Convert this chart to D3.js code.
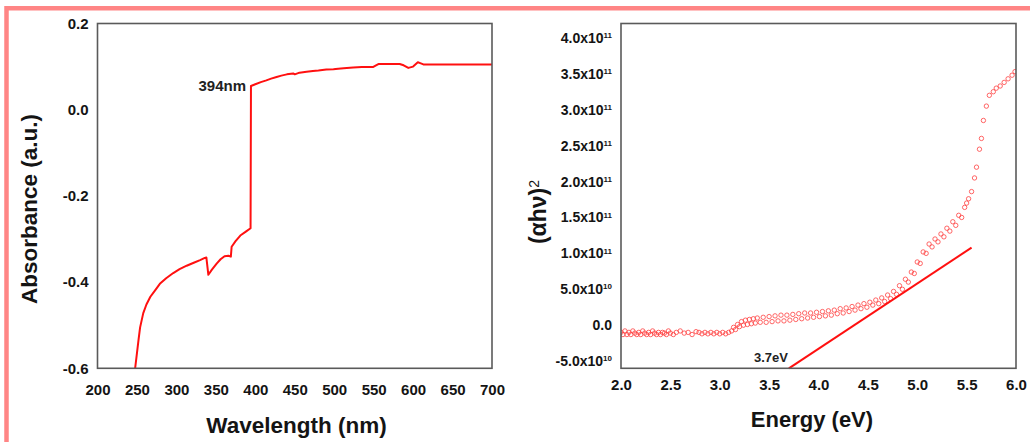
<!DOCTYPE html>
<html>
<head>
<meta charset="utf-8">
<script src="https://cdn.jsdelivr.net/npm/d3@7"></script>
<style>
  html, body { margin: 0; padding: 0; background: #fff; }
  text { font-family: "Liberation Sans", Arial, sans-serif; }
</style>
</head>
<body>
<script>
// ---------- data: left panel (absorbance spectrum) ----------
const wavelength = [247.7, 250, 252, 254, 258, 262, 267, 273, 279, 287, 296, 304, 313, 322, 330, 336, 338,
  340.5, 345, 351, 356, 361, 366, 369, 370, 375, 381, 388, 394,
  394.5, 400, 407, 414, 420, 427, 433, 440, 448, 450, 456, 465, 473, 480, 490, 499, 505, 512,
  524, 535, 549, 553, 556, 570, 583, 588, 594, 600, 606, 609, 613, 650, 700];
const absorbance = [-0.6, -0.565, -0.534, -0.505, -0.472, -0.452, -0.434, -0.419, -0.404, -0.391, -0.379, -0.370, -0.362, -0.355, -0.349, -0.344, -0.343,
  -0.383, -0.371, -0.357, -0.347, -0.340, -0.339, -0.341, -0.318, -0.305, -0.292, -0.283, -0.275,
  0.055, 0.059, 0.064, 0.068, 0.072, 0.076, 0.079, 0.082, 0.084, 0.082, 0.086, 0.088, 0.090, 0.091, 0.093, 0.094, 0.095, 0.096,
  0.098, 0.099, 0.099, 0.103, 0.106, 0.106, 0.106, 0.103, 0.097, 0.100, 0.110, 0.108, 0.105, 0.105, 0.105];
const leftXTicks = [200, 250, 300, 350, 400, 450, 500, 550, 600, 650, 700];
const leftYTicks = [-0.6, -0.4, -0.2, 0.0, 0.2];

// ---------- data: right panel (Tauc plot), values in units of 1e10 ----------
const energy = [2.00, 2.02, 2.04, 2.06, 2.08, 2.10, 2.12, 2.14, 2.16, 2.18, 2.20, 2.22, 2.24, 2.26, 2.28, 2.30,
  2.32, 2.34, 2.36, 2.38, 2.40, 2.42, 2.44, 2.46, 2.48, 2.50, 2.53, 2.56, 2.60, 2.64, 2.68, 2.72, 2.76,
  2.79, 2.82, 2.85, 2.88, 2.91, 2.94, 2.97, 3.00, 3.03, 3.06, 3.09,
  3.12, 3.14, 3.16, 3.18, 3.20, 3.22, 3.24, 3.26, 3.28, 3.30, 3.32, 3.34, 3.36, 3.38, 3.41, 3.44,
  3.47, 3.50, 3.53, 3.56, 3.59, 3.62, 3.65, 3.68, 3.71, 3.74, 3.77, 3.80, 3.83, 3.86, 3.89, 3.92,
  3.95, 3.98, 4.01, 4.04, 4.07, 4.10, 4.13, 4.16, 4.19, 4.22, 4.25, 4.28, 4.31, 4.34, 4.37, 4.40,
  4.43, 4.46, 4.49, 4.52, 4.55, 4.58, 4.61, 4.64, 4.67, 4.70, 4.73, 4.76, 4.79, 4.82, 4.85, 4.88,
  4.91, 4.94, 4.97, 5.00, 5.03, 5.06, 5.09, 5.12, 5.15, 5.18, 5.21, 5.24, 5.27, 5.30, 5.33, 5.36,
  5.39, 5.42, 5.45, 5.48, 5.50, 5.52, 5.55, 5.58, 5.60, 5.63, 5.65, 5.67, 5.70, 5.73, 5.77, 5.80,
  5.84, 5.88, 5.92, 5.96, 5.99];
const ahv2 = [-1.0, -1.3, -0.8, -1.3, -1.0, -1.3, -0.8, -1.1, -1.3, -1.0, -1.3, -0.8, -1.1, -1.3, -1.0, -1.3,
  -0.8, -1.1, -1.3, -1.0, -1.3, -1.0, -1.1, -1.3, -0.8, -1.1, -1.3, -1.0, -0.8, -1.1, -1.0, -1.3, -0.9,
  -1.0, -1.2, -1.0, -1.2, -1.0, -1.2, -1.0, -1.2, -1.0, -1.2, -1.0,
  -0.8, -0.3, -0.6, 0.1, -0.2, 0.5, 0.0, 0.7, 0.1, 0.8, 0.2, 0.9, 0.3, 1.0, 0.4, 1.1,
  0.4, 1.2, 0.5, 1.3, 0.6, 1.4, 0.6, 1.4, 0.7, 1.5, 0.8, 1.6, 0.9, 1.7, 1.0, 1.7,
  1.1, 1.8, 1.2, 1.9, 1.3, 2.0, 1.4, 2.1, 1.6, 2.3, 1.7, 2.4, 1.9, 2.6, 2.1, 2.8,
  2.3, 3.0, 2.5, 3.2, 2.8, 3.5, 3.0, 3.8, 3.3, 4.2, 3.7, 4.7, 4.3, 5.5, 5.0, 6.4,
  6.0, 7.4, 7.2, 8.8, 8.6, 10.2, 10.0, 11.3, 10.9, 12.0, 11.6, 12.7, 12.3, 13.5, 13.1, 14.4,
  13.9, 15.3, 15.0, 16.4, 17.0, 17.6, 18.6, 20.5, 22.0, 24.5, 26.0, 28.5, 30.5, 32.0, 32.5, 33.0,
  33.3, 33.8, 34.3, 34.8, 35.3];
// linear extrapolation line for the band gap
const fitEnergy = [3.7, 5.55];
const fitAhv2 = [-6.0, 10.8];
const rightXTicks = [2.0, 2.5, 3.0, 3.5, 4.0, 4.5, 5.0, 5.5, 6.0];
const rightYTicks = [-5, 0, 5, 10, 15, 20, 25, 30, 35, 40];
const rightYMant = ["-5.0", "0.0", "5.0", "1.0", "1.5", "2.0", "2.5", "3.0", "3.5", "4.0"];
const rightYExp = ["10", "", "10", "11", "11", "11", "11", "11", "11", "11"];

const W = 1030, H = 442;
const svg = d3.select("body").append("svg")
  .attr("width", W).attr("height", H);

svg.append("rect").attr("width", W).attr("height", H).attr("fill", "#fff");

// pink frame round the figure (left and top only)
svg.append("path")
  .attr("d", "M6.5,442 V8.2 H1030")
  .attr("fill", "none")
  .attr("stroke", "#ff8585")
  .attr("stroke-width", 4.5);

const plotTop = 23.5, plotBottom = 368.3;
const ink = "#141414";

//------------- left panel -------------
const xL = d3.scaleLinear().domain([200, 700]).range([97.5, 492]);
const yL = d3.scaleLinear().domain([-0.6, 0.2]).range([plotBottom, plotTop]);

const gL = svg.append("g");

gL.append("clipPath").attr("id", "clipL")
  .append("rect").attr("x", 97.5).attr("y", plotTop).attr("width", 492 - 97.5).attr("height", plotBottom - plotTop);

const lineL = d3.line().x((d, i) => xL(wavelength[i])).y((d, i) => yL(absorbance[i]));
gL.append("path")
  .attr("d", lineL(wavelength))
  .attr("clip-path", "url(#clipL)")
  .attr("fill", "none")
  .attr("stroke", "#ff1010")
  .attr("stroke-width", 2)
  .attr("stroke-linejoin", "round");

gL.append("rect")
  .attr("x", 97.5).attr("y", plotTop).attr("width", 492 - 97.5).attr("height", plotBottom - plotTop)
  .attr("fill", "none").attr("stroke", "#5a5a5a").attr("stroke-width", 1.6);

//x axis
gL.append("g")
  .attr("transform", `translate(0,${plotBottom})`)
  .call(d3.axisBottom(xL).tickValues(leftXTicks).tickSize(0).tickPadding(16).tickFormat(d => String(d)))
  .call(g => g.select(".domain").remove())
  .selectAll("text")
  .style("font-size", "15px").style("font-weight", "bold").attr("fill", ink);

//y axis (plain hyphen for the minus, as in the original)
gL.append("g")
  .attr("transform", "translate(97.5,0)")
  .call(d3.axisLeft(yL).tickValues(leftYTicks).tickSize(0).tickPadding(9).tickFormat(d => d.toFixed(1)))
  .call(g => g.select(".domain").remove())
  .selectAll("text")
  .style("font-size", "15px").style("font-weight", "bold").attr("fill", ink);

gL.append("text")
  .attr("x", 246).attr("y", 91)
  .attr("text-anchor", "end")
  .style("font-size", "15px").style("font-weight", "bold").attr("fill", "#222")
  .text("394nm");

gL.append("text")
  .attr("x", 296.5).attr("y", 433)
  .attr("text-anchor", "middle")
  .style("font-size", "22.5px").style("font-weight", "bold").attr("fill", ink)
  .text("Wavelength (nm)");

gL.append("text")
  .attr("transform", "translate(36.5,209) rotate(-90)")
  .attr("text-anchor", "middle")
  .style("font-size", "22.5px").style("font-weight", "bold").attr("fill", ink)
  .text("Absorbance (a.u.)");

//------------- right panel -------------
const xR = d3.scaleLinear().domain([2, 6]).range([621, 1016]);
const yR = d3.scaleLinear().domain([-6, 42]).range([plotBottom, plotTop]);

const gR = svg.append("g");

gR.append("clipPath").attr("id", "clipR")
  .append("rect").attr("x", 621).attr("y", plotTop).attr("width", 1016 - 621).attr("height", plotBottom - plotTop);

gR.append("g").attr("clip-path", "url(#clipR)")
  .selectAll("circle")
  .data(energy)
  .enter()
  .append("circle")
  .attr("cx", (d, i) => xR(energy[i]))
  .attr("cy", (d, i) => yR(ahv2[i]))
  .attr("r", 2.2)
  .attr("fill", "none")
  .attr("stroke", "#ff4040")
  .attr("stroke-width", 0.8);

gR.append("line")
  .attr("x1", xR(fitEnergy[0])).attr("y1", yR(fitAhv2[0]))
  .attr("x2", xR(fitEnergy[1])).attr("y2", yR(fitAhv2[1]))
  .attr("stroke", "#ff1010")
  .attr("stroke-width", 2);

gR.append("rect")
  .attr("x", 621).attr("y", plotTop).attr("width", 1016 - 621).attr("height", plotBottom - plotTop)
  .attr("fill", "none").attr("stroke", "#5a5a5a").attr("stroke-width", 1.6);

gR.append("g")
  .attr("transform", `translate(0,${plotBottom})`)
  .call(d3.axisBottom(xR).tickValues(rightXTicks).tickSize(0).tickPadding(11).tickFormat(d => d.toFixed(1)))
  .call(g => g.select(".domain").remove())
  .selectAll("text")
  .style("font-size", "15px").style("font-weight", "bold").attr("fill", ink);

const yAxisR = gR.append("g")
  .attr("transform", "translate(621,0)")
  .call(d3.axisLeft(yR).tickValues(rightYTicks).tickSize(0).tickPadding(9))
  .call(g => g.select(".domain").remove());

yAxisR.selectAll(".tick text").each(function(d, i) {
  const t = d3.select(this);
  t.text(null)
    .style("font-size", "14px").style("font-weight", "bold").attr("fill", ink);
  if (rightYExp[i]) {
    t.append("tspan").text(rightYMant[i] + "x10");
    t.append("tspan").attr("dy", "-0.6em").style("font-size", "8px").text(rightYExp[i]);
  } else {
    t.append("tspan").text(rightYMant[i]);
  }
});

gR.append("text")
  .attr("x", 788).attr("y", 362)
  .attr("text-anchor", "end")
  .style("font-size", "13px").style("font-weight", "bold").attr("fill", "#222")
  .text("3.7eV");

gR.append("text")
  .attr("x", 812).attr("y", 427)
  .attr("text-anchor", "middle")
  .style("font-size", "22px").style("font-weight", "bold").attr("fill", ink)
  .text("Energy (eV)");

const yTitleR = gR.append("text")
  .attr("transform", "translate(546,212) rotate(-90)")
  .attr("text-anchor", "middle")
  .style("font-size", "23px").attr("fill", ink);
yTitleR.append("tspan").style("font-weight", "bold").text("(\u03b1h\u03bd)");
yTitleR.append("tspan").attr("dy", "-0.5em").style("font-size", "14px").text("2");
</script>
</body>
</html>
